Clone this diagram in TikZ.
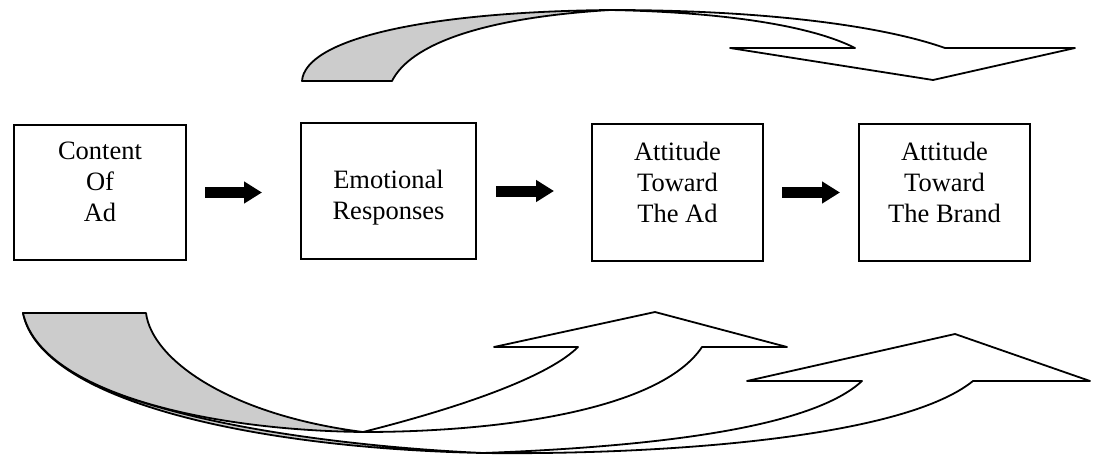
\documentclass[tikz,border=0pt]{standalone}
\usepackage{fontspec}
\setmainfont{Liberation Serif}
\usetikzlibrary{arrows.meta}
\begin{document}
\begin{tikzpicture}[x=0.5pt,y=-0.5pt,
  box/.style={draw, line width=1pt, inner sep=0pt},
  txt/.style={font=\fontsize{13.25pt}{15.5pt}\selectfont, align=center, inner sep=0pt},
  fat/.style={line width=5.5pt, -{Triangle[length=9pt,width=10.5pt]}},
  tailshade/.style={draw, line width=0.9pt, fill=black!20, line join=round},
  hollow/.style={draw, line width=0.9pt, fill=white, line join=round}]
\useasboundingbox (0,0) rectangle (1098,456);

% boxes
\node[box, minimum width=86pt, minimum height=67.5pt] (b1) at (100,192.5) {};
\node[box, minimum width=87.5pt, minimum height=68pt] (b2) at (388.5,191) {};
\node[box, minimum width=85.5pt, minimum height=68.5pt] (b3) at (677.5,192.5) {};
\node[box, minimum width=85.5pt, minimum height=68.5pt] (b4) at (944.5,192.5) {};

\node[txt] (t1) at (100,182) {Content\\Of\\Ad};
\node[txt] (t2) at (388.5,198) {Emotional\\Responses};
\node[txt] (t3) at (677.5,182) {Attitude\\Toward\\The Ad};
\node[txt] (t4) at (944.5,182) {Attitude\\Toward\\The Brand};

% thick arrows
\draw[fat, shorten <=9pt, shorten >=19pt] (b1.east) -- (b1.east -| b2.west);
\draw[fat, shorten <=9.5pt, shorten >=18.5pt] (b2.east) -- (b2.east -| b3.west);
\draw[fat, shorten <=9pt, shorten >=9pt] (b3.east) -- (b3.east -| b4.west);

% top curved arrow
\draw[tailshade] (302,81) -- (392,81) .. controls (410,45) and (480,18) .. (610,10)
  .. controls (420,12) and (305,40) .. (302,81) -- cycle;
\draw[hollow] (610,10) .. controls (760,10) and (880,25) .. (945,48) -- (1075,48)
  -- (933,80) -- (730,48) -- (855,48) .. controls (810,25) and (720,12) .. (610,10) -- cycle;

% bottom curved arrows
\draw[tailshade] (23,313) .. controls (40,400) and (250,448) .. (483,453)
  .. controls (330,446) and (150,420) .. (73,372) -- cycle;
\draw[tailshade] (23,313) -- (146,313) .. controls (152,360) and (230,415) .. (363,432)
  .. controls (200,430) and (40,390) .. (23,313) -- cycle;
\draw[hollow] (363,432) .. controls (470,405) and (550,375) .. (578,347) -- (494,347)
  -- (655,312) -- (787,347) -- (702,347) .. controls (660,410) and (500,432) .. (363,432) -- cycle;
\draw[hollow] (483,453) .. controls (700,445) and (820,420) .. (862,381) -- (747,381)
  -- (955,334) -- (1090,381) -- (973,381) .. controls (900,440) and (650,455) .. (483,453) -- cycle;
\end{tikzpicture}
\end{document}
